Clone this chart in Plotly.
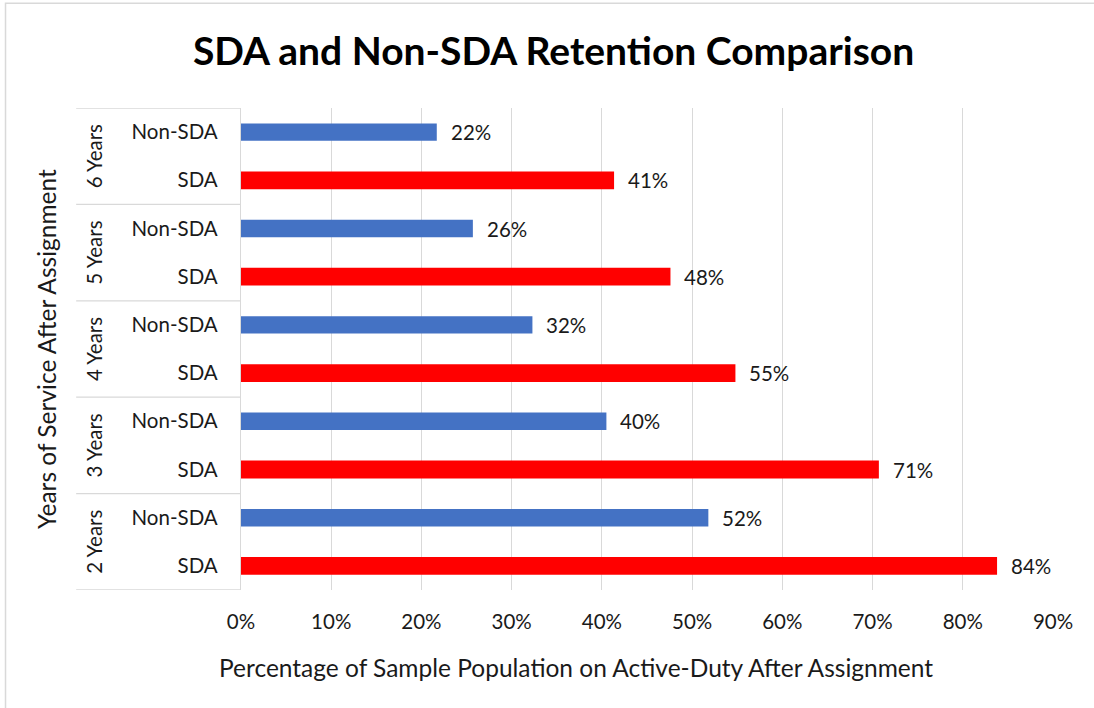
import plotly.graph_objects as go

years = ["2 Years", "3 Years", "4 Years", "5 Years", "6 Years"]
sda = [83.8, 70.7, 54.8, 47.6, 41.35]
non_sda = [51.8, 40.5, 32.3, 25.7, 21.7]
x_ticks = [0, 10, 20, 30, 40, 50, 60, 70, 80, 90]

FONT = "Lato"
TXT = "#1a1a1a"
GRID = "#d9d9d9"
FS = 20.5

sda_cats = [f"{y}|SDA" for y in years]
non_cats = [f"{y}|Non-SDA" for y in years]
order = []
for a, b in zip(sda_cats, non_cats):
    order += [a, b]

fig = go.Figure()
fig.add_trace(go.Bar(y=sda_cats, x=sda, orientation="h", marker=dict(color="#FF0000", line=dict(width=0)),
                     width=0.37, name="SDA", showlegend=False, hoverinfo="x+y"))
fig.add_trace(go.Bar(y=non_cats, x=non_sda, orientation="h", marker=dict(color="#4472C4", line=dict(width=0)),
                     width=0.36, name="Non-SDA", showlegend=False, hoverinfo="x+y"))

ann = []
for c, v in list(zip(sda_cats, sda)) + list(zip(non_cats, non_sda)):
    ann.append(dict(x=v, y=c, xref="x", yref="y", text=f"{round(v)}%", showarrow=False,
                    xanchor="left", xshift=12, font=dict(family=FONT, size=FS, color=TXT)))
for i, yl in enumerate(years):
    ann.append(dict(x=-0.181, y=2 * i + 0.5, xref="paper", yref="y", text=yl, textangle=-90,
                    showarrow=False, xanchor="center", yanchor="middle",
                    font=dict(family=FONT, size=FS, color=TXT)))
ann.append(dict(x=-0.240, y=0.5, xref="paper", yref="paper", text="Years of Service After Assignment",
                textangle=-90, showarrow=False, xanchor="center", yanchor="middle",
                font=dict(family=FONT, size=24.5, color=TXT)))
ann.append(dict(x=0.4126, y=-0.1605, xref="paper", yref="paper",
                text="Percentage of Sample Population on Active-Duty After Assignment",
                showarrow=False, xanchor="center", yanchor="middle",
                font=dict(family=FONT, size=24.5, color=TXT)))

shapes = []
for k in range(len(years) + 1):
    yv = 2 * k - 0.5
    shapes.append(dict(type="line", xref="paper", yref="y", x0=-0.203, x1=0, y0=yv, y1=yv,
                       line=dict(color=GRID, width=1.3)))
shapes.append(dict(type="rect", xref="paper", yref="paper", x0=-0.29, x1=1.2, y0=-0.4, y1=1.2174,
                   line=dict(color=GRID, width=1.5), fillcolor="rgba(0,0,0,0)", layer="below"))

fig.update_layout(
    width=1094, height=708,
    margin=dict(l=241, r=41, t=107.5, b=117.5),
    paper_bgcolor="white", plot_bgcolor="white",
    barmode="overlay",
    title=dict(text="<b>SDA and Non-SDA Retention Comparison</b>", x=0.506, xanchor="center",
               y=0.928, yanchor="middle", font=dict(family=FONT, size=39, color="#000000")),
    xaxis=dict(range=[0, 90], tickvals=x_ticks, ticktext=[f"{t}%" for t in x_ticks],
               showgrid=True, gridcolor=GRID, gridwidth=1.3, zeroline=False, showline=False,
               tickfont=dict(family=FONT, size=FS, color=TXT), ticklabelstandoff=17,
               fixedrange=True),
    yaxis=dict(type="category", categoryorder="array", categoryarray=order,
               tickvals=order, ticktext=[c.split("|")[1] for c in order],
               range=[-0.5, len(order) - 0.5],
               showgrid=False, zeroline=False, showline=True, linecolor=GRID, linewidth=1.3,
               tickfont=dict(family=FONT, size=FS, color=TXT), ticklabelstandoff=18,
               fixedrange=True),
    annotations=ann,
    shapes=shapes,
)

fig.write_html("out.html", config={"displayModeBar": False},
               post_script="document.body.style.margin='0';document.body.style.overflow='hidden';")
